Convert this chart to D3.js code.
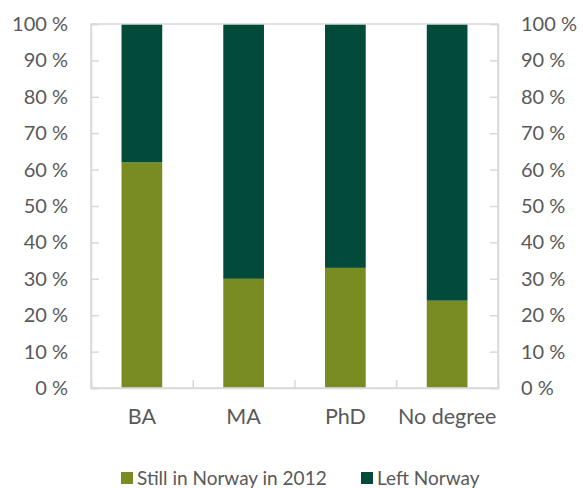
<!DOCTYPE html>
<html>
<head>
<meta charset="utf-8">
<script src="https://cdn.jsdelivr.net/npm/d3@7"></script>
<style>
  html, body { margin: 0; padding: 0; background: #fff; }
  svg { display: block; font-family: Lato, "Open Sans", sans-serif; }
</style>
</head>
<body>
<svg id="chart" width="583" height="488"></svg>
<script>
const categories = ["BA", "MA", "PhD", "No degree"];
const stillInNorway = [62, 30, 33, 24];
const leftNorway = [38, 70, 67, 76];
const seriesNames = ["Still in Norway in 2012", "Left Norway"];
const seriesColors = ["#798C21", "#024A3A"];
const yTicks = [0, 10, 20, 30, 40, 50, 60, 70, 80, 90, 100];

const svg = d3.select("#chart");
const plot = { left: 91, right: 498, top: 24, bottom: 388 };
const textColor = "#595959";
const axisColor = "#D9D9D9";
const fontSize = 20;

const x = d3.scaleBand().domain(categories).range([plot.left, plot.right]).paddingInner(0.6).paddingOuter(0.3);
const y = d3.scaleLinear().domain([0, 100]).range([plot.bottom, plot.top]);

const rows = categories.map((c, i) => ({ cat: c, vals: [stillInNorway[i], leftNorway[i]] }));
const stack = d3.stack().keys([0, 1]).value((d, k) => d.vals[k]);
const stacked = stack(rows);

svg.append("g").selectAll("g").data(stacked).join("g")
  .attr("fill", (d, i) => seriesColors[i])
  .selectAll("rect").data(d => d).join("rect")
  .attr("x", d => x(d.data.cat))
  .attr("width", x.bandwidth())
  .attr("y", d => y(d[1]))
  .attr("height", d => y(d[0]) - y(d[1]));

// frame
svg.append("rect")
  .attr("x", plot.left).attr("y", plot.top)
  .attr("width", plot.right - plot.left).attr("height", plot.bottom - plot.top)
  .attr("fill", "none").attr("stroke", axisColor).attr("stroke-width", 1.5);

function styleAxis(g, size) {
  g.select(".domain").attr("stroke", axisColor).attr("stroke-width", 1.5);
  g.selectAll(".tick line").attr("stroke", axisColor).attr("stroke-width", 1.5);
  g.selectAll(".tick text").attr("fill", textColor).attr("font-size", size || fontSize)
    .attr("font-family", "Lato, 'Open Sans', sans-serif");
}

const fmt = d => d + " %";
svg.append("g").attr("transform", `translate(${plot.left},0)`)
  .call(d3.axisLeft(y).tickValues(yTicks).tickFormat(fmt).tickSize(-8).tickPadding(23))
  .call(styleAxis);
svg.append("g").attr("transform", `translate(${plot.right},0)`)
  .call(d3.axisRight(y).tickValues(yTicks).tickFormat(fmt).tickSize(-8).tickPadding(23))
  .call(styleAxis);

// category boundary ticks
const xb = d3.scaleLinear().domain([0, categories.length]).range([plot.left, plot.right]);
svg.append("g").attr("transform", `translate(0,${plot.bottom})`)
  .call(d3.axisBottom(xb).ticks(categories.length).tickFormat("").tickSize(-8))
  .call(styleAxis);

// category labels
svg.append("g").attr("transform", `translate(0,${plot.bottom})`)
  .call(d3.axisBottom(x).tickSize(0).tickPadding(21))
  .call(g => g.select(".domain").remove())
  .call(g => styleAxis(g, 21.5));

// legend
const legend = svg.append("g").attr("transform", "translate(0,478)");
const legendX = [121, 361];
seriesNames.forEach((name, i) => {
  const g = legend.append("g").attr("transform", `translate(${legendX[i]},0)`);
  g.append("rect").attr("x", 0).attr("y", -6).attr("width", 12).attr("height", 12).attr("fill", seriesColors[i]);
  g.append("text").attr("x", 16).attr("y", 0).attr("dy", "0.35em")
    .attr("fill", textColor).attr("font-size", 19).text(name);
});
</script>
</body>
</html>
